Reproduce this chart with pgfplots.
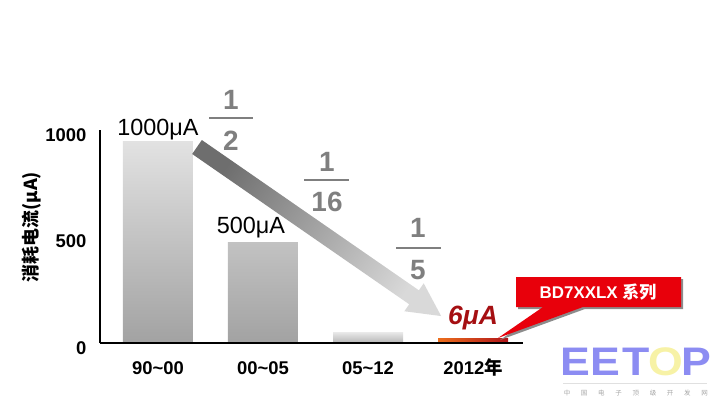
\documentclass[border=0pt]{standalone}
\usepackage{fontspec}
\setmainfont{Liberation Sans}
\newfontfamily\cjk{Noto Sans CJK SC}
\usepackage{pgfplots}
\pgfplotsset{compat=1.18}

\definecolor{barTop}{HTML}{E2E2E2}
\definecolor{barBot}{HTML}{A2A2A2}
\definecolor{fracGray}{HTML}{7F7F7F}
\definecolor{arrowDark}{HTML}{6E6E6E}
\definecolor{arrowLight}{HTML}{D9D9D9}
\definecolor{darkRed}{HTML}{A50F12}
\definecolor{calloutRed}{HTML}{E8000B}
\definecolor{barOrange}{HTML}{EC6E1C}
\definecolor{barRed}{HTML}{B0141A}
\definecolor{logoBlue}{HTML}{8C8CF2}
\definecolor{logoYellow}{HTML}{F7F2A6}

\begin{document}
\begin{tikzpicture}[x=1bp,y=1bp]
\path[use as bounding box] (0,0) rectangle (720,406);

\begin{axis}[
    at={(100bp,63bp)}, anchor=south west,
    scale only axis, width=423bp, height=213bp,
    xmin=-0.552, xmax=3.476, ymin=0, ymax=1000,
    axis x line=bottom, axis y line=left,
    axis line style={-, line width=1.6bp},
    axis on top,
    xtick={0,1,2,3},
    xticklabels={90\textasciitilde 00, 00\textasciitilde 05, 05\textasciitilde 12, 2012{\cjk\bfseries 年}},
    ytick={0,500,1000},
    major tick length=0,
    /pgf/number format/1000 sep={},
    /pgf/number format/assume math mode=true,
    tick label style={font=\fontsize{18.5}{20}\selectfont\bfseries},
    yticklabel style={yshift=-5bp, xshift=-10bp},
    xticklabel style={yshift=-15bp, text height=13bp, text depth=3bp},
    clip=false,
]
% Balken
\addplot[ybar, bar shift=0pt, bar width=70bp, draw=none,
    top color=barTop, bottom color=barBot] coordinates {(0,948) (1,474)};
\addplot[ybar, bar shift=0pt, bar width=70bp, draw=none,
    top color=barTop!90!white, bottom color=barTop!80!black] coordinates {(2,47)};
\addplot[ybar, bar shift=0pt, bar width=70bp, draw=none,
    left color=barOrange, right color=barRed] coordinates {(3,23)};

% Werte
\node[font=\fontsize{23.5}{24}\selectfont] at (axis cs:0,1000) {1000μA};
\node[font=\fontsize{23.5}{24}\selectfont] at (axis cs:0.886,540) {500μA};
\node[font=\fontsize{26.5}{27}\selectfont\bfseries\itshape, text=darkRed] at (axis cs:3.0,117) {6μA};
\end{axis}

% y-Achsentitel
\node[rotate=90, font=\cjk\fontsize{18}{18}\selectfont\bfseries] at (32,{406-227}) {消耗电流(μA)};

% Pfeil
\begin{scope}[shift={(197,{406-147})}, rotate=-34.7]
  \shade[top color=arrowDark, bottom color=arrowLight, shading angle=55]
    (0,-8.5) -- (264,-8.5) -- (264,-17) -- (297,0) -- (264,17) -- (264,8.5) -- (0,8.5) -- cycle;
\end{scope}

% Brueche
\begin{scope}[every node/.style={font=\fontsize{28}{28}\selectfont\bfseries, text=fracGray}]
  \node at (231,{406-100}) {1};
  \draw[fracGray, line width=2.5bp] (209,{406-118}) -- (253,{406-118});
  \node at (231,{406-141}) {2};
  \node at (327,{406-162}) {1};
  \draw[fracGray, line width=2.5bp] (304,{406-180}) -- (349,{406-180});
  \node at (327,{406-202}) {16};
  \node at (418,{406-228}) {1};
  \draw[fracGray, line width=2.5bp] (396,{406-248}) -- (441,{406-248});
  \node at (418,{406-270}) {5};
\end{scope}

% Sprechblase
\fill[black!45, shift={(2,-2)}] (516,{406-277}) -- (681,{406-277}) -- (681,{406-307}) -- (583,{406-307})
  -- (498,{406-338}) -- (543,{406-307}) -- (516,{406-307}) -- cycle;
\fill[calloutRed] (516,{406-277}) -- (681,{406-277}) -- (681,{406-307}) -- (583,{406-307})
  -- (498,{406-338}) -- (543,{406-307}) -- (516,{406-307}) -- cycle;
\node[text=white, font=\fontsize{17}{17}\selectfont\bfseries] at (598,{406-292}) {BD7XXLX {\cjk\bfseries 系列}};

% Logo
\begin{scope}[every node/.style={font=\fontsize{40}{40}\selectfont\bfseries, xscale=1.12}]
  \node[text=logoBlue] at (575,{406-362}) {E};
  \node[text=logoBlue] at (605,{406-362}) {E};
  \node[text=logoBlue] at (636,{406-362}) {T};
  \node[text=logoYellow] at (666,{406-362}) {O};
  \node[text=logoBlue] at (696,{406-362}) {P};
\end{scope}
\draw[black!12, line width=1bp] (563,{406-383}) -- (707,{406-383});
\foreach \c [count=\i from 0] in {中,国,电,子,顶,级,开,发,网}
  \node[text=black!35, font=\cjk\fontsize{6.5}{7}\selectfont] at ({567+\i*17.2},{406-393}) {\c};
\end{tikzpicture}
\end{document}
